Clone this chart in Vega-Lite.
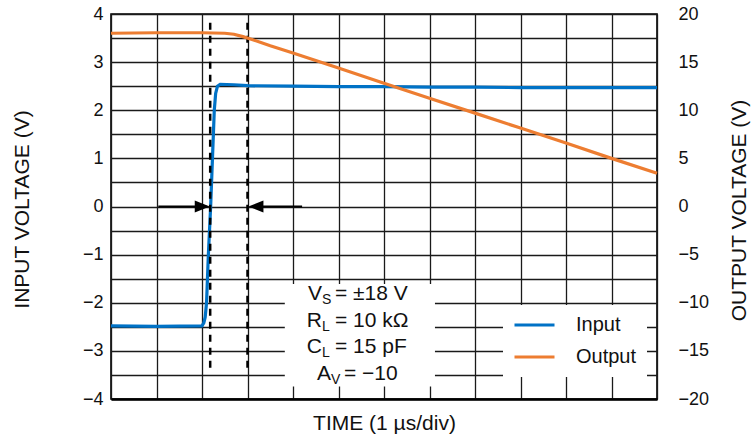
{
  "$schema": "https://vega.github.io/schema/vega-lite/v6.json",
  "width": 546,
  "height": 385,
  "autosize": "none",
  "padding": {"left": 111, "top": 14, "right": 94, "bottom": 41},
  "background": "white",
  "config": {
    "font": "Liberation Sans",
    "view": {"stroke": "#000", "strokeWidth": 1.6},
    "axis": {"gridColor": "#1a1a1a", "gridWidth": 1.3, "gridOpacity": 1, "labelColor": "#111", "titleColor": "#111", "titleFontWeight": "normal", "labelFont": "Liberation Sans", "titleFont": "Liberation Sans"},
    "legend": {"labelFont": "Liberation Sans"}
  },
  "datasets": {
    "series": [
      {"series": "Input", "t": 0, "v": -2.48},
      {"series": "Input", "t": 1, "v": -2.49},
      {"series": "Input", "t": 2.0, "v": -2.48},
      {"series": "Input", "t": 2.04, "v": -2.42},
      {"series": "Input", "t": 2.07, "v": -2.3},
      {"series": "Input", "t": 2.1, "v": -2.0},
      {"series": "Input", "t": 2.14, "v": -1.0},
      {"series": "Input", "t": 2.19, "v": 0.0},
      {"series": "Input", "t": 2.23, "v": 1.0},
      {"series": "Input", "t": 2.27, "v": 2.0},
      {"series": "Input", "t": 2.3, "v": 2.35},
      {"series": "Input", "t": 2.34, "v": 2.5},
      {"series": "Input", "t": 2.4, "v": 2.54},
      {"series": "Input", "t": 2.7, "v": 2.53},
      {"series": "Input", "t": 3.0, "v": 2.51},
      {"series": "Input", "t": 4, "v": 2.5},
      {"series": "Input", "t": 5, "v": 2.49},
      {"series": "Input", "t": 6, "v": 2.49},
      {"series": "Input", "t": 7, "v": 2.48},
      {"series": "Input", "t": 8, "v": 2.48},
      {"series": "Input", "t": 9, "v": 2.47},
      {"series": "Input", "t": 10, "v": 2.47},
      {"series": "Input", "t": 11, "v": 2.47},
      {"series": "Input", "t": 12, "v": 2.47},
      {"series": "Output", "t": 0, "v": 18.0},
      {"series": "Output", "t": 1, "v": 18.05},
      {"series": "Output", "t": 2, "v": 18.05},
      {"series": "Output", "t": 2.5, "v": 18.0},
      {"series": "Output", "t": 2.7, "v": 17.9},
      {"series": "Output", "t": 2.9, "v": 17.65},
      {"series": "Output", "t": 3.1, "v": 17.35},
      {"series": "Output", "t": 3.5, "v": 16.7},
      {"series": "Output", "t": 4, "v": 15.95},
      {"series": "Output", "t": 5, "v": 14.4},
      {"series": "Output", "t": 6, "v": 12.8},
      {"series": "Output", "t": 7, "v": 11.25},
      {"series": "Output", "t": 8, "v": 9.7},
      {"series": "Output", "t": 9, "v": 8.15},
      {"series": "Output", "t": 10, "v": 6.6},
      {"series": "Output", "t": 11, "v": 5.0},
      {"series": "Output", "t": 12, "v": 3.45}
    ],
    "boxes": [{"x1": 3.82, "x2": 7.12, "y1": -1.61, "y2": -3.74}],
    "markers": [{"t": 2.18}, {"t": 3.0}],
    "arrows": [
      {"a": 1.04, "b": 2.1, "dir": "right", "tip": 2.17},
      {"a": 3.1, "b": 4.2, "dir": "left", "tip": 3.02}
    ],
    "notes": [
      {"t": 4.637, "v": -1.951, "main": "V", "sub": "S", "rest": "= ±18 V"},
      {"t": 4.637, "v": -2.512, "main": "R", "sub": "L", "rest": "= 10 kΩ"},
      {"t": 4.637, "v": -3.053, "main": "C", "sub": "L", "rest": "= 15 pF"},
      {"t": 4.835, "v": -3.615, "main": "A", "sub": "V", "rest": "= −10"}
    ]
  },
  "layer": [
    {
      "data": {"name": "series"},
      "transform": [{"filter": "datum.series === 'Input'"}],
      "mark": {"type": "line", "strokeWidth": 3.2},
      "encoding": {
        "x": {
          "field": "t", "type": "quantitative", "title": "TIME (1 µs/div)",
          "scale": {"domain": [0, 12], "nice": false},
          "axis": {"values": [0,1,2,3,4,5,6,7,8,9,10,11,12], "grid": true, "labels": false, "ticks": false, "domain": true, "domainColor": "#000", "domainWidth": 2.5, "title": "TIME (1 µs/div)", "titleFontSize": 21, "titleBaseline": "middle", "titleY": 24}
        },
        "y": {
          "field": "v", "type": "quantitative",
          "scale": {"domain": [-4, 4], "nice": false},
          "axis": {"values": [-4,-3.5,-3,-2.5,-2,-1.5,-1,-0.5,0,0.5,1,1.5,2,2.5,3,3.5,4], "format": "~f", "labelExpr": "datum.value % 1 === 0 ? datum.label : ''", "labelOverlap": false, "grid": true, "ticks": false, "domain": false, "labelFontSize": 18, "labelPadding": 8, "title": "INPUT VOLTAGE (V)", "titleFontSize": 21, "titleBaseline": "middle", "titleX": -89, "titleY": 195}
        },
        "color": {
          "field": "series", "type": "nominal",
          "scale": {"domain": ["Input", "Output"], "range": ["#0072C6", "#ED7D31"]},
          "legend": {"orient": "none", "legendX": 392, "legendY": 291, "title": null, "symbolType": "stroke", "symbolStrokeWidth": 3, "symbolSize": 1600, "labelFontSize": 20, "labelOffset": 20, "fillColor": "white", "padding": 10, "rowPadding": 12, "clipHeight": 20, "labelColor": "#111"}
        }
      }
    },
    {
      "data": {"name": "boxes"},
      "mark": {"type": "rect", "fill": "white", "stroke": null},
      "encoding": {
        "x": {"field": "x1", "type": "quantitative", "title": "TIME (1 µs/div)", "scale": {"domain": [0, 12], "nice": false}},
        "x2": {"field": "x2"},
        "y": {"field": "y1", "type": "quantitative", "scale": {"domain": [-4, 4], "nice": false}, "axis": null},
        "y2": {"field": "y2"}
      }
    },
    {
      "data": {"name": "markers"},
      "mark": {"type": "rule", "color": "#000", "strokeWidth": 2.5, "strokeDash": [7, 6]},
      "encoding": {
        "x": {"field": "t", "type": "quantitative", "title": "TIME (1 µs/div)", "scale": {"domain": [0, 12], "nice": false}},
        "y": {"datum": 3.82, "type": "quantitative", "scale": {"domain": [-4, 4], "nice": false}, "axis": null},
        "y2": {"datum": -3.45}
      }
    },
    {
      "data": {"name": "arrows"},
      "mark": {"type": "rule", "color": "#000", "strokeWidth": 2},
      "encoding": {
        "x": {"field": "a", "type": "quantitative", "title": "TIME (1 µs/div)", "scale": {"domain": [0, 12], "nice": false}},
        "x2": {"field": "b"},
        "y": {"datum": 0, "type": "quantitative", "scale": {"domain": [-4, 4], "nice": false}, "axis": null}
      }
    },
    {
      "data": {"name": "arrows"},
      "mark": {"type": "point", "filled": true, "color": "#000", "opacity": 1, "size": 900},
      "encoding": {
        "x": {"field": "tip", "type": "quantitative", "title": "TIME (1 µs/div)", "scale": {"domain": [0, 12], "nice": false}},
        "y": {"datum": 0, "type": "quantitative", "scale": {"domain": [-4, 4], "nice": false}, "axis": null},
        "shape": {"field": "dir", "type": "nominal", "scale": {"domain": ["right", "left"], "range": ["M0,0L-1,-0.4L-1,0.4Z", "M0,0L1,-0.4L1,0.4Z"]}, "legend": null}
      }
    },
    {
      "data": {"name": "notes"},
      "mark": {"type": "text", "align": "right", "baseline": "alphabetic", "fontSize": 21, "color": "#111"},
      "encoding": {
        "x": {"field": "t", "type": "quantitative", "title": "TIME (1 µs/div)", "scale": {"domain": [0, 12], "nice": false}},
        "y": {"field": "v", "type": "quantitative", "scale": {"domain": [-4, 4], "nice": false}, "axis": null},
        "text": {"field": "main"}
      }
    },
    {
      "data": {"name": "notes"},
      "mark": {"type": "text", "align": "left", "baseline": "alphabetic", "fontSize": 14, "dy": 4, "color": "#111"},
      "encoding": {
        "x": {"field": "t", "type": "quantitative", "title": "TIME (1 µs/div)", "scale": {"domain": [0, 12], "nice": false}},
        "y": {"field": "v", "type": "quantitative", "scale": {"domain": [-4, 4], "nice": false}, "axis": null},
        "text": {"field": "sub"}
      }
    },
    {
      "data": {"name": "notes"},
      "mark": {"type": "text", "align": "left", "baseline": "alphabetic", "fontSize": 21, "dx": 13, "color": "#111"},
      "encoding": {
        "x": {"field": "t", "type": "quantitative", "title": "TIME (1 µs/div)", "scale": {"domain": [0, 12], "nice": false}},
        "y": {"field": "v", "type": "quantitative", "scale": {"domain": [-4, 4], "nice": false}, "axis": null},
        "text": {"field": "rest"}
      }
    },
    {
      "data": {"name": "series"},
      "transform": [{"filter": "datum.series === 'Output'"}],
      "mark": {"type": "line", "strokeWidth": 3.2},
      "encoding": {
        "x": {"field": "t", "type": "quantitative", "title": "TIME (1 µs/div)", "scale": {"domain": [0, 12], "nice": false}},
        "y": {
          "field": "v", "type": "quantitative",
          "scale": {"domain": [-20, 20], "nice": false},
          "axis": {"orient": "right", "values": [-20,-15,-10,-5,0,5,10,15,20], "grid": false, "ticks": false, "domain": false, "labelFontSize": 18, "labelPadding": 21, "labelOverlap": false, "title": "OUTPUT VOLTAGE (V)", "titleFontSize": 21, "titleAngle": 270, "titleBaseline": "middle", "titleX": 82, "titleY": 196}
        },
        "color": {
          "field": "series", "type": "nominal",
          "scale": {"domain": ["Input", "Output"], "range": ["#0072C6", "#ED7D31"]},
          "legend": {"orient": "none", "legendX": 392, "legendY": 291, "title": null, "symbolType": "stroke", "symbolStrokeWidth": 3, "symbolSize": 1600, "labelFontSize": 20, "labelOffset": 20, "fillColor": "white", "padding": 10, "rowPadding": 12, "clipHeight": 20, "labelColor": "#111"}
        }
      }
    }
  ],
  "resolve": {"scale": {"y": "independent"}, "axis": {"y": "independent"}}
}
